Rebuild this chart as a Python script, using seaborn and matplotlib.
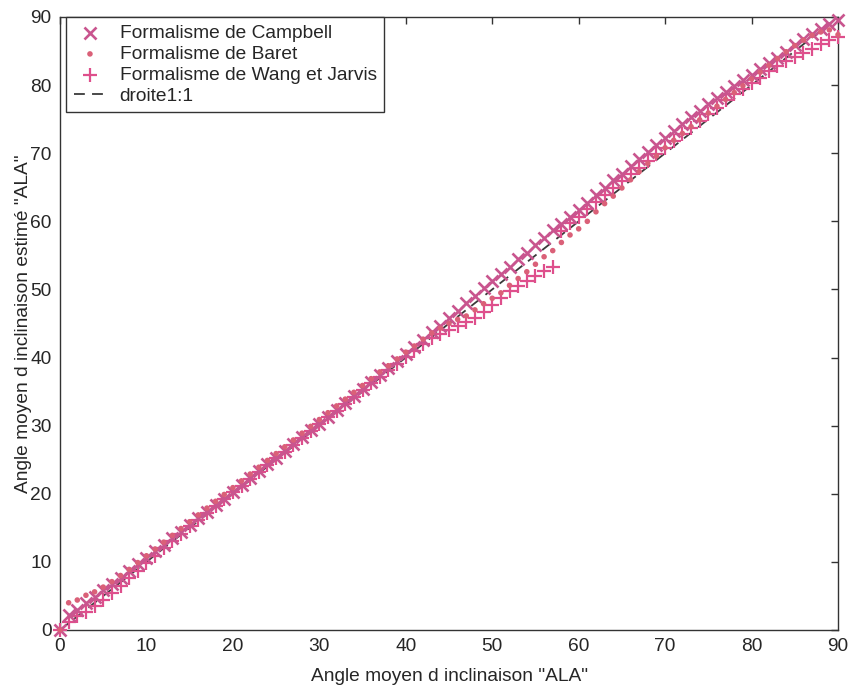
import matplotlib
matplotlib.use("Agg")
import matplotlib.pyplot as plt
import numpy as np
import pandas as pd
import seaborn as sns

# ---------------- data ----------------
ala_reference = list(range(0, 91))

campbell = [0.0, 2.2, 3.0, 3.9, 4.9, 5.8, 6.8, 7.7, 8.7, 9.7,
            10.6, 11.6, 12.5, 13.5, 14.4, 15.4, 16.4, 17.3, 18.3, 19.3,
            20.3, 21.3, 22.3, 23.3, 24.3, 25.3, 26.3, 27.3, 28.3, 29.3,
            30.3, 31.3, 32.3, 33.4, 34.4, 35.4, 36.4, 37.4, 38.5, 39.5,
            40.5, 41.6, 42.6, 43.7, 44.7, 45.8, 46.9, 48.0, 49.1, 50.2,
            51.2, 52.3, 53.3, 54.4, 55.4, 56.5, 57.6, 58.7, 59.6, 60.6,
            61.6, 62.7, 63.8, 64.9, 66.0, 67.0, 68.1, 69.1, 70.2, 71.2,
            72.3, 73.3, 74.3, 75.3, 76.2, 77.2, 78.1, 79.0, 79.8, 80.7,
            81.5, 82.3, 83.2, 84.0, 84.9, 85.9, 86.7, 87.5, 88.2, 88.9,
            89.5]

baret = [0.0, 4.0, 4.4, 5.1, 5.6, 6.3, 7.1, 8.0, 8.9, 9.9,
         10.9, 11.9, 12.9, 13.9, 14.9, 15.9, 16.9, 17.9, 18.9, 19.9,
         20.9, 21.9, 22.9, 23.9, 24.9, 25.9, 26.9, 27.9, 28.9, 29.9,
         30.9, 31.9, 32.9, 33.9, 34.9, 35.9, 36.9, 37.9, 38.8, 39.8,
         40.8, 41.7, 42.7, 43.6, 44.3, 45.0, 45.6, 46.1, 47.0, 47.9,
         48.7, 49.5, 50.6, 51.6, 52.6, 53.7, 54.8, 55.7, 56.9, 58.0,
         58.9, 60.0, 61.4, 62.6, 63.7, 64.9, 66.1, 67.3, 68.5, 69.6,
         70.8, 71.9, 72.9, 73.9, 74.9, 75.9, 76.9, 77.9, 78.9, 79.9,
         80.9, 81.9, 82.9, 83.9, 84.9, 85.8, 86.6, 87.3, 87.8, 88.1,
         87.4]

wang_jarvis = [0.0, 1.2, 2.0, 2.6, 3.5, 4.4, 5.5, 6.5, 7.6, 8.7,
               9.8, 10.9, 12.0, 13.1, 14.1, 15.2, 16.2, 17.2, 18.2, 19.2,
               20.2, 21.2, 22.2, 23.2, 24.2, 25.2, 26.2, 27.2, 28.2, 29.2,
               30.2, 31.2, 32.2, 33.2, 34.2, 35.2, 36.2, 37.2, 38.2, 39.1,
               40.1, 41.0, 42.0, 42.8, 43.5, 44.1, 44.7, 45.2, 45.8, 46.7,
               47.7, 48.8, 49.7, 50.5, 51.3, 52.0, 52.7, 53.3, 58.6, 59.7,
               60.7, 61.8, 62.8, 63.9, 64.9, 65.9, 66.9, 67.9, 68.9, 69.9,
               70.8, 71.8, 72.8, 73.7, 74.7, 75.7, 76.7, 77.8, 78.7, 79.5,
               80.3, 81.1, 82.0, 82.8, 83.6, 84.2, 84.7, 85.3, 86.0, 86.6,
               87.1]

droite_ref = [0, 90]

series_labels = ["Formalisme de Campbell", "Formalisme de Baret",
                 "Formalisme de Wang et Jarvis", "droite1:1"]
axis_ticks = [0, 10, 20, 30, 40, 50, 60, 70, 80, 90]
x_label = 'Angle moyen d inclinaison "ALA"'
y_label = 'Angle moyen d inclinaison estimé "ALA"'

# ---------------- styling ----------------
sns.set_theme(style="white")
plt.rcParams["font.family"] = ["Liberation Sans", "DejaVu Sans"]
text_col = "#262626"
plt.rcParams["text.color"] = text_col
plt.rcParams["axes.labelcolor"] = text_col
plt.rcParams["xtick.color"] = "#333333"
plt.rcParams["ytick.color"] = "#333333"
plt.rcParams["xtick.labelcolor"] = text_col
plt.rcParams["ytick.labelcolor"] = text_col

col_campbell = "#C9558F"
col_baret = "#DA6078"
col_wang = "#DE4F8C"
fs = 13.8

df = pd.DataFrame({"ALA": ala_reference, "Campbell": campbell,
                   "Baret": baret, "Wang": wang_jarvis})
df_line = pd.DataFrame({"x": droite_ref, "y": droite_ref})

fig = plt.figure(figsize=(8.48, 6.90), dpi=100)
ax = fig.add_axes([60 / 848, 1 - 630 / 690, 778 / 848, 613 / 690])

sns.lineplot(data=df_line, x="x", y="y", ax=ax, color="#3a3a3a",
             linewidth=1.3, linestyle=(0, (6, 4)), label=series_labels[3],
             zorder=2)
sns.scatterplot(data=df, x="ALA", y="Campbell", ax=ax, marker="x", s=75,
                color=col_campbell, linewidth=1.9, label=series_labels[0],
                zorder=4, clip_on=False)
sns.scatterplot(data=df, x="ALA", y="Baret", ax=ax, marker="o", s=16,
                color=col_baret, edgecolor="none", label=series_labels[1],
                zorder=5, clip_on=False)
sns.scatterplot(data=df, x="ALA", y="Wang", ax=ax, marker="+", s=100,
                color=col_wang, linewidth=1.6, label=series_labels[2],
                zorder=3, clip_on=False)

ax.set_xlim(0, 90)
ax.set_ylim(0, 90)
ax.set_xticks(axis_ticks)
ax.set_yticks(axis_ticks)
ax.tick_params(direction="in", top=True, right=True, length=5, width=1,
               labelsize=fs, pad=6)
for sp in ax.spines.values():
    sp.set_visible(True)
    sp.set_color("#333333")
    sp.set_linewidth(1.0)

ax.set_xlabel(x_label, fontsize=fs, labelpad=9)
ax.set_ylabel(y_label, fontsize=fs, labelpad=-1)

handles, labels = ax.get_legend_handles_labels()
order = [labels.index(l) for l in series_labels]
leg = ax.legend([handles[i] for i in order], [labels[i] for i in order],
                loc="upper left", bbox_to_anchor=(6 / 778, 1.0),
                borderaxespad=0, frameon=True, fancybox=False,
                edgecolor="#333333", framealpha=1, fontsize=fs,
                labelspacing=0.18, borderpad=0.4, handlelength=1.7,
                handletextpad=0.7)
leg.get_frame().set_linewidth(1.0)

fig.savefig("out.png", dpi=100, facecolor="white")
